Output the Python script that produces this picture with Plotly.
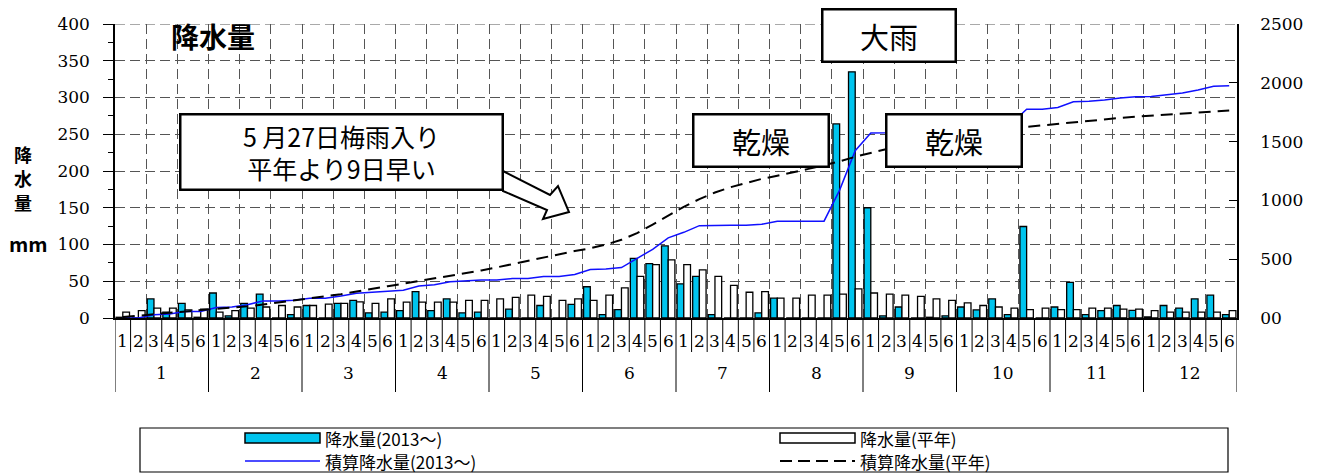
import numpy as np
import plotly.graph_objects as go

# Five-day (半旬) precipitation, mm: 6 periods per month, Jan..Dec
month_labels = [str(m) for m in range(1, 13)]
period_labels = ["1", "2", "3", "4", "5", "6"]

rain_2013 = [
    1, 0, 26, 8, 20, 1,          # 1
    34, 3, 20, 32.5, 0, 4.5,     # 2
    17, 0, 20, 24, 7, 8,         # 3
    10, 36, 10, 26, 7, 8,        # 4
    0, 12, 0, 17, 0, 18.5,       # 5
    42.5, 4.5, 11.5, 81, 74, 98, # 6
    46.5, 56.5, 4.5, 0, 0, 7,    # 7
    27, 0, 0, 0, 264, 335,       # 8
    150, 3, 15, 0, 1, 3,         # 9
    15, 11, 26, 4.5, 124.5, 0,   # 10
    15, 48.5, 4.5, 10, 17, 10.5, # 11
    1.5, 17, 13.5, 26, 31, 4.5,  # 12
]

rain_normal = [
    8, 10, 13.5, 13.5, 11, 12,
    8, 10, 13.5, 15, 17, 15,
    17, 19, 20, 22, 20, 26,
    21.5, 21.5, 21.5, 21.5, 24, 24,
    26, 28, 31, 29.5, 24, 26,
    24, 31, 41, 56.5, 72.5, 79,
    72.5, 65.5, 56.5, 44.5, 35, 36,
    27, 27, 31, 31, 32.5, 39.5,
    34, 32.5, 31, 29.5, 26, 24,
    20.5, 17, 15, 13.5, 11.5, 13.5,
    11.5, 11.5, 13.5, 13.5, 12, 12,
    10, 8, 8, 8, 8, 10,
]

# Accumulated precipitation (積算) follows from the five-day totals
cum_2013 = np.cumsum(rain_2013)
cum_normal = np.cumsum(rain_normal)

n_periods = len(rain_2013)
x_center = np.arange(n_periods) + 0.5

CYAN = "#00C4EE"
GRID = "#555555"
SERIF = "DejaVu Serif, Liberation Serif, serif"
JP = "Noto Sans CJK JP, sans-serif"

# plot-area geometry (pixels) used to place the decorations
W, H = 1336, 476
L, R, T, B = 115, 1237, 24, 318


def px(xp):
    return (xp - L) / (R - L)


def py(yp):
    return (B - yp) / (B - T)


fig = go.Figure()
fig.add_bar(
    x=x_center, y=rain_2013, name="降水量(2013～)",
    marker=dict(color=CYAN, line=dict(color="black", width=1.3)),
    showlegend=False,
)
fig.add_bar(
    x=x_center, y=rain_normal, name="降水量(平年)",
    marker=dict(color="white", line=dict(color="black", width=1.3)),
    showlegend=False,
)
fig.add_scatter(
    x=x_center, y=cum_2013, yaxis="y2", mode="lines", name="積算降水量(2013～)",
    line=dict(color="#1010FF", width=1.5), showlegend=False,
)
fig.add_scatter(
    x=x_center, y=cum_normal, yaxis="y2", mode="lines", name="積算降水量(平年)",
    line=dict(color="black", width=2, dash="12px,7px"), showlegend=False,
)

shapes = []
annotations = []


def text_at(xp, yp, text, size, family=JP, xanchor="center"):
    return dict(
        x=px(xp), y=py(yp), xref="paper", yref="paper", text=text,
        xanchor=xanchor, yanchor="middle", showarrow=False,
        font=dict(family=family, size=size, color="black"),
    )


# table-style category axis: period separators and month separators
for k in range(n_periods + 1):
    long_line = k % 6 == 0
    shapes.append(dict(
        type="line", xref="x", yref="paper", x0=k, x1=k,
        y0=0, y1=py(392) if long_line else py(352),
        line=dict(color="black", width=1),
    ))
for k in range(n_periods):
    annotations.append(dict(
        x=k + 0.5, y=py(341), xref="x", yref="paper",
        xanchor="center", yanchor="middle",
        text=period_labels[k % 6], showarrow=False,
        font=dict(family=SERIF, size=17, color="black"),
    ))
for m, lab in enumerate(month_labels):
    annotations.append(dict(
        x=m * 6 + 3, y=py(373), xref="x", yref="paper",
        xanchor="center", yanchor="middle",
        text=lab, showarrow=False,
        font=dict(family=SERIF, size=17, color="black"),
    ))

# top grid line at 400
shapes.append(dict(
    type="line", xref="paper", yref="y", x0=0, x1=1, y0=400, y1=400,
    line=dict(color=GRID, width=1, dash="10px,5px"),
))

# chart title and stacked vertical axis title
annotations.append(text_at(213, 36, "<b>降水量</b>", 28))
for i, ch in enumerate("降水量"):
    annotations.append(text_at(23, 154 + 24 * i, f"<b>{ch}</b>", 18))
annotations.append(text_at(28, 243, "<b>mm</b>", 20))


def callout(cx, cy, w, h, text, size):
    return dict(
        x=px(cx), y=py(cy), xref="paper", yref="paper", text=text,
        xanchor="center", yanchor="middle",
        showarrow=False, width=w, height=h, borderpad=0,
        bordercolor="black", borderwidth=2.5, bgcolor="white",
        font=dict(family=JP, size=size, color="black"),
        align="center", valign="middle",
    )


# block arrow from the rainy-season note toward June
arrow_pts = [(503, 171), (550, 195), (558, 186), (569, 212),
             (543, 219), (547, 210), (503, 191)]
path = "M " + " L ".join(f"{px(a):.5f},{py(b):.5f}" for a, b in arrow_pts) + " Z"
shapes.append(dict(
    type="path", xref="paper", yref="paper", path=path,
    fillcolor="white", line=dict(color="black", width=2), layer="above",
))

annotations.append(callout(341, 152, 320, 73, "5 月27日梅雨入り<br>平年より9日早い", 25))
annotations.append(callout(761, 140, 133, 50, "乾燥", 29))
annotations.append(callout(889, 35, 131, 50, "大雨", 29))
annotations.append(callout(954, 140, 133, 50, "乾燥", 29))

# legend box drawn below the axis table
LEG_L, LEG_R, LEG_T, LEG_B = 140, 1228, 428, 472
shapes.append(dict(
    type="rect", xref="paper", yref="paper",
    x0=px(LEG_L), x1=px(LEG_R), y0=py(LEG_B), y1=py(LEG_T),
    line=dict(color="black", width=1.2), fillcolor="white",
))
rows = [438, 461]
cols = [(245, 320), (780, 855)]
entries = [
    ("bar", CYAN, "降水量(2013～)", 0, 0),
    ("bar", "white", "降水量(平年)", 0, 1),
    ("line", "#1010FF", "積算降水量(2013～)", 1, 0),
    ("dash", "black", "積算降水量(平年)", 1, 1),
]
for kind, color, label, r, c in entries:
    x0, x1 = cols[c]
    yc = rows[r]
    if kind == "bar":
        shapes.append(dict(
            type="rect", xref="paper", yref="paper",
            x0=px(x0), x1=px(x1), y0=py(yc + 5), y1=py(yc - 5),
            fillcolor=color, line=dict(color="black", width=1.5),
        ))
    else:
        shapes.append(dict(
            type="line", xref="paper", yref="paper",
            x0=px(x0), x1=px(x1), y0=py(yc), y1=py(yc),
            line=dict(color=color, width=1.5 if kind == "line" else 2,
                      dash="solid" if kind == "line" else "12px,6px"),
        ))
    annotations.append(text_at(x1 + 3, yc, label, 17, xanchor="left"))

fig.update_layout(
    width=W, height=H,
    margin=dict(l=L, r=W - R, t=T, b=H - B, pad=0),
    paper_bgcolor="white", plot_bgcolor="white",
    barmode="group", bargap=0.14, bargroupgap=0,
    showlegend=False,
    shapes=shapes, annotations=annotations,
    xaxis=dict(
        range=[0, n_periods], tick0=0, dtick=2, showticklabels=False,
        ticks="", showgrid=True, gridcolor=GRID, gridwidth=1,
        griddash="10px,5px", showline=True, linecolor="black", linewidth=2,
        zeroline=False, fixedrange=True,
    ),
    yaxis=dict(
        range=[0, 400], tick0=0, dtick=50, ticks="outside", ticklen=10,
        tickcolor="black", tickwidth=1,
        minor=dict(dtick=25, ticks="outside", ticklen=5, tickcolor="black"),
        showgrid=True, gridcolor=GRID, gridwidth=1, griddash="10px,5px",
        showline=True, linecolor="black", linewidth=1.5, zeroline=False,
        tickfont=dict(family=SERIF, size=17, color="black"),
        ticklabelstandoff=10,
    ),
    yaxis2=dict(
        overlaying="y", side="right", range=[0, 2500],
        tickvals=[0, 500, 1000, 1500, 2000, 2500],
        ticktext=["00", "500", "1000", "1500", "2000", "2500"],
        ticks="inside", ticklen=8, tickcolor="black",
        showgrid=False, zeroline=False,
        showline=True, linecolor="black", linewidth=1.5,
        tickfont=dict(family=SERIF, size=17, color="black"),
        ticklabelstandoff=18,
    ),
)

fig.write_html("out.html")
